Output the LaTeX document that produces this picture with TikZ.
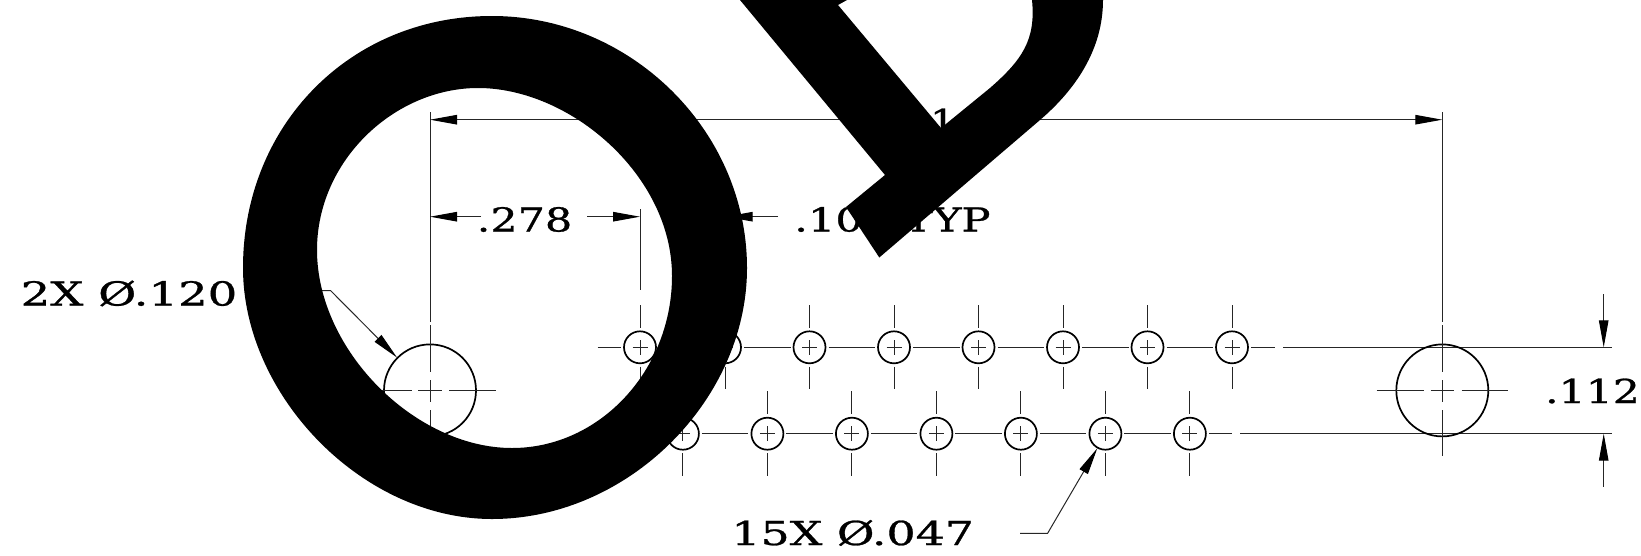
\documentclass[tikz,border=0pt]{standalone}
\usepackage{graphicx}
\usepackage{fontspec}
\newfontfamily\dimfont[FakeBold=0.8]{DejaVu Serif}
\usetikzlibrary{arrows.meta}
\newcommand\dimtext[2][1.25]{\scalebox{#1}[1]{\fontsize{33}{33}\dimfont #2}}
\tikzset{
  x=1pt,y=-1pt,
  thinl/.style={line width=1pt,black!85},
  holeln/.style={line width=1.7pt,black},
  dimarrow/.style={thinl,-{Triangle[length=27pt,width=9.5pt,black]}},
  dimlabel/.style={inner sep=0pt},
  blot/.style={fill=black,draw=none}
}
\begin{document}
\begin{tikzpicture}
\useasboundingbox (0,0) rectangle (1641,555);
\def\ya{347.3}\def\yb{433.7}\def\yc{390.4}
% small holes
\foreach \n/\cx in {a/640,b/725,c/809.5,d/894,e/978.5,f/1063,g/1147.5,h/1232}{
  \node[circle,draw,holeln,minimum size=32pt,inner sep=0pt] (t\n) at (\cx,\ya) {};
  \draw[thinl] (\cx,305)--(\cx,328) (\cx,340)--(\cx,355) (\cx,366.7)--(\cx,389.3) (\cx-7.5,\ya)--(\cx+7.5,\ya);
}
\foreach \n/\cx in {a/682.9,b/767.4,c/851.9,d/936.4,e/1020.9,f/1105.4,g/1189.9}{
  \node[circle,draw,holeln,minimum size=32pt,inner sep=0pt] (b\n) at (\cx,\yb) {};
  \draw[thinl] (\cx,391)--(\cx,414) (\cx,426)--(\cx,441) (\cx,453)--(\cx,475.7) (\cx-7.5,\yb)--(\cx+7.5,\yb);
}
% row centre lines
\foreach \cx in {640,725,809.5,894,978.5,1063,1147.5}{\draw[thinl] (\cx+19,\ya)--(\cx+65.5,\ya);}
\foreach \cx in {682.9,767.4,851.9,936.4,1020.9,1105.4}{\draw[thinl] (\cx+19,\yb)--(\cx+65.5,\yb);}
\draw[thinl] (597.6,\ya)--(621,\ya) (1251,\ya)--(1275,\ya) (1209,\yb)--(1232,\yb);
\coordinate (ra) at (1283,\ya); \coordinate (rb) at (1240,\yb);
\coordinate (ea) at (1611.7,\ya); \coordinate (eb) at (1611.7,\yb);
\draw[thinl] (ra)--(ea) (rb)--(eb);
% big holes
\node[circle,draw,holeln,minimum size=92pt,inner sep=0pt] (L) at (430,\yc) {};
\node[circle,draw,holeln,minimum size=92pt,inner sep=0pt] (R) at (1442.3,\yc) {};
\foreach \cx in {430,1442.3}{
  \draw[thinl] (\cx,112)--(\cx,322) (\cx,325)--(\cx,372) (\cx,380)--(\cx,402) (\cx,410)--(\cx,456);
  \draw[thinl] (\cx-65.6,\yc)--(\cx-18,\yc) (\cx-11.6,\yc)--(\cx+11.6,\yc) (\cx+19.4,\yc)--(\cx+65.7,\yc);
}
\draw[thinl] (640,209)--(640,290);
\draw[thinl] (725,209)--(725,290);
% overall dimension
\coordinate (dl) at (430,119.7); \coordinate (dr) at (1442.3,119.7); \coordinate (dm) at (936,119.7);
\draw[dimarrow] (dm)--(dl);
\draw[dimarrow] (dm)--(dr);
\node[dimlabel,fill=white,anchor=base,inner xsep=8pt] (oal) at (943,133) {\dimtext{1}};
% .278
\node[dimlabel,anchor=base] (d278) at (524.5,231.5) {\dimtext[1.3]{.278}};
\coordinate (p1) at (430,216.7); \coordinate (p2) at (481,216.7);
\coordinate (p3) at (587,216.7); \coordinate (p4) at (640,216.7);
\draw[dimarrow] (p2)--(p1);
\draw[dimarrow] (p3)--(p4);
% typ
\node[dimlabel,anchor=base west] (typ) at (794,231.5) {\dimtext[1.31]{.100 TYP}};
\coordinate (p5) at (778,216.7); \coordinate (p6) at (725.7,216.7);
\draw[dimarrow] (p5)--(p6);
% .112
\node[dimlabel,anchor=base] (d112) at (1592.5,403) {\dimtext[1.29]{.112}};
\coordinate (q1) at (1603.7,294); \coordinate (q2) at (1603.7,\ya);
\coordinate (q3) at (1603.7,486.7); \coordinate (q4) at (1603.7,\yb);
\draw[dimarrow] (q1)--(q2);
\draw[dimarrow] (q3)--(q4);
% leaders
\node[dimlabel,anchor=base] (n2x) at (129,305.5) {\dimtext[1.41]{2X Ø.120}};
\coordinate (l1) at (245,292); \coordinate (l2) at (330.5,290.5); \coordinate (l3) at (397,357.5);
\draw[dimarrow] (l1)--(l2)--(l3);
\node[dimlabel,anchor=base] (n15x) at (852.7,545) {\dimtext[1.39]{15X Ø.047}};
\coordinate (m1) at (1020,533.3); \coordinate (m2) at (1047.6,533.3); \coordinate (m3) at (1097.3,448.3);
\draw[dimarrow] (m1)--(m2)--(m3);
% big overprinted letters
\path[blot,even odd rule]
  (492,16) .. controls (630,16) and (747,130) .. (747,268)
  .. controls (747,400) and (628,519) .. (492,519)
  .. controls (362,519) and (243,395) .. (243,268)
  .. controls (243,125) and (350,16) .. (492,16) -- cycle
  (478,88) .. controls (570,88) and (672,175) .. (672,276)
  .. controls (672,370) and (600,448) .. (512,448)
  .. controls (415,448) and (317,350) .. (317,250)
  .. controls (317,160) and (395,88) .. (478,88) -- cycle;
\path[blot] (740,0)--(885,175)--(846,207)--(879.3,257.5)--(1040,120)
  .. controls (1075,90) and (1103,50) .. (1103,0)
  --(1032,0) .. controls (1036,40) and (1022,60) .. (990,88)
  --(941,128)--(838,5)--(847,0)--cycle;
\end{tikzpicture}
\end{document}
